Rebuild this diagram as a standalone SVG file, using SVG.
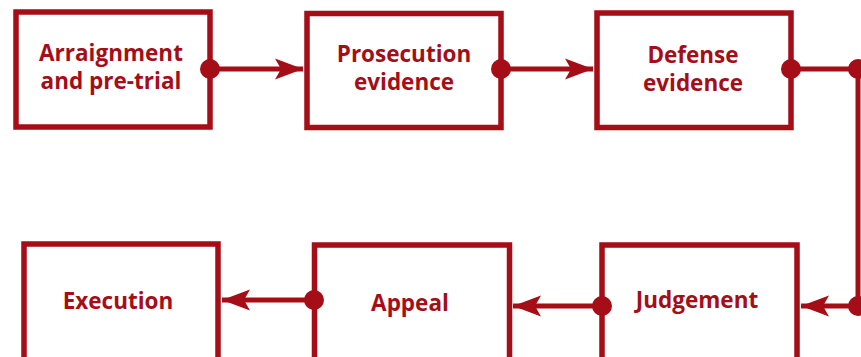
<svg xmlns="http://www.w3.org/2000/svg" width="861" height="357" viewBox="0 0 861 357">
  <style>
    .box { fill: #ffffff; stroke: #a50d17; stroke-width: 5.5; }
    .lbl { fill: #a50d17; font-family: "Open Sans", "Liberation Sans", sans-serif; font-weight: 700; font-size: 22.5px; text-anchor: middle; }
    .ln { stroke: #a50d17; stroke-width: 5; fill: none; }
    .dot { fill: #a50d17; }
  </style>
  <defs>
    <marker id="arr" markerUnits="userSpaceOnUse" markerWidth="30" markerHeight="24" viewBox="0 0 30 24" refX="28" refY="12" orient="auto">
      <path d="M28,12 L0,1.5 L6,12 L0,22.5 Z" fill="#a50d17"/>
    </marker>
  </defs>
  <rect width="861" height="357" fill="#ffffff"/>
  <g id="n1"><rect class="box" x="16" y="12" width="194" height="115"/><text class="lbl" x="111" y="61">Arraignment</text><text class="lbl" x="111" y="89">and pre-trial</text></g>
  <g id="n2"><rect class="box" x="307" y="13.5" width="194" height="114"/><text class="lbl" x="404" y="62">Prosecution</text><text class="lbl" x="404" y="90">evidence</text></g>
  <g id="n3"><rect class="box" x="597" y="13" width="194" height="114.5"/><text class="lbl" x="693" y="63">Defense</text><text class="lbl" x="693" y="91">evidence</text></g>
  <g id="n4"><rect class="box" x="602" y="245" width="195" height="130"/><text class="lbl" x="697" y="308">Judgement</text></g>
  <g id="n5"><rect class="box" x="314.5" y="245" width="195" height="130"/><text class="lbl" x="410" y="311">Appeal</text></g>
  <g id="n6"><rect class="box" x="24" y="244" width="194" height="130"/><text class="lbl" x="118" y="309">Execution</text></g>
  <g id="connectors">
    <line class="ln" x1="210" y1="69" x2="303" y2="69" marker-end="url(#arr)"/>
    <circle class="dot" cx="210" cy="69" r="10"/>
    <line class="ln" x1="501" y1="69" x2="593" y2="69" marker-end="url(#arr)"/>
    <circle class="dot" cx="501" cy="69" r="10"/>
    <polyline class="ln" points="791,69 858,69 858,306"/>
    <circle class="dot" cx="791" cy="69" r="10"/>
    <circle class="dot" cx="858" cy="69" r="10"/>
    <line class="ln" x1="858" y1="306" x2="801" y2="306" marker-end="url(#arr)"/>
    <circle class="dot" cx="858" cy="306" r="10"/>
    <line class="ln" x1="602" y1="306" x2="513" y2="306" marker-end="url(#arr)"/>
    <circle class="dot" cx="602" cy="306" r="10"/>
    <line class="ln" x1="314" y1="300" x2="222" y2="300" marker-end="url(#arr)"/>
    <circle class="dot" cx="314" cy="300" r="10"/>
  </g>
</svg>
